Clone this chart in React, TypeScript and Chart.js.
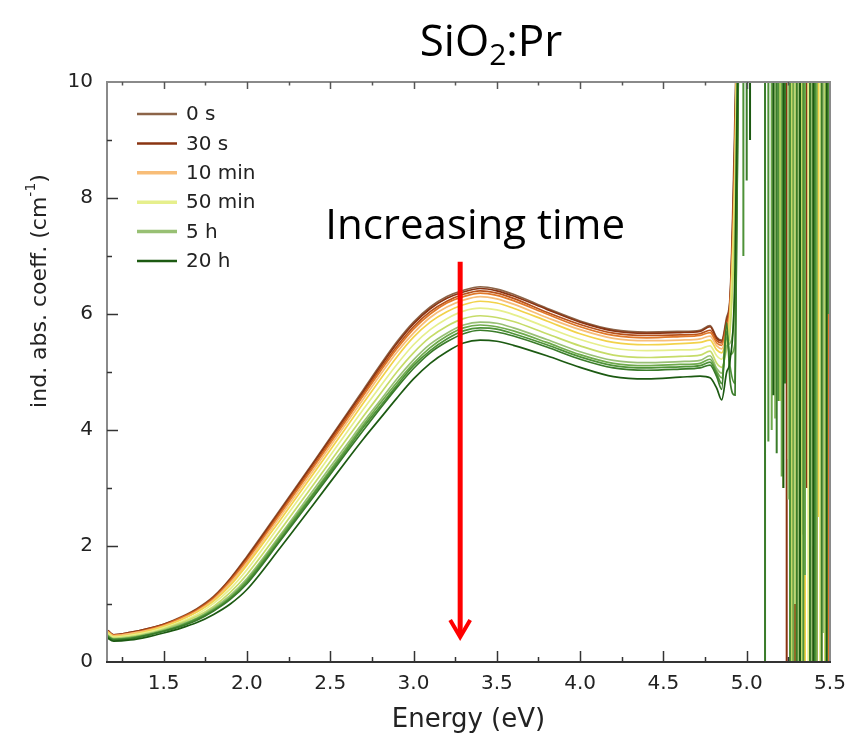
import React, { useEffect, useRef } from "react";
import { Chart, registerables } from "chart.js";
Chart.register(...registerables);

// ---------- data ----------
const energy = [1.15, 1.17, 1.2, 1.3, 1.4, 1.5, 1.6, 1.7, 1.8, 1.9, 2.0, 2.2, 2.4, 2.6, 2.7, 2.8, 2.9, 3.0, 3.1, 3.2, 3.3, 3.4, 3.5, 3.6, 3.8, 4.0, 4.2, 4.4, 4.6, 4.72, 4.78, 4.82, 4.85, 4.88, 4.9, 4.93, 4.96];

const abs00 = [0.58, 0.53, 0.47, 0.51, 0.57, 0.65, 0.77, 0.92, 1.13, 1.44, 1.82, 2.63, 3.45, 4.28, 4.7, 5.12, 5.52, 5.86, 6.12, 6.3, 6.41, 6.47, 6.43, 6.34, 6.1, 5.88, 5.73, 5.69, 5.7, 5.72, 5.8, 5.6, 5.55, 5.95, 6.3, 9.5, 14];
const abs01 = [0.58, 0.53, 0.47, 0.51, 0.57, 0.65, 0.76, 0.91, 1.12, 1.43, 1.8, 2.61, 3.43, 4.26, 4.67, 5.09, 5.49, 5.83, 6.09, 6.27, 6.38, 6.44, 6.4, 6.31, 6.08, 5.86, 5.71, 5.67, 5.68, 5.7, 5.78, 5.58, 5.53, 5.9, 6.25, 9.2, 14];
const abs02 = [0.57, 0.52, 0.46, 0.5, 0.56, 0.64, 0.76, 0.9, 1.11, 1.41, 1.77, 2.58, 3.39, 4.22, 4.63, 5.05, 5.44, 5.78, 6.04, 6.22, 6.34, 6.4, 6.36, 6.27, 6.03, 5.82, 5.67, 5.63, 5.64, 5.66, 5.72, 5.54, 5.5, 5.85, 6.2, 9.0, 14];
const abs03 = [0.56, 0.51, 0.46, 0.49, 0.55, 0.63, 0.75, 0.89, 1.09, 1.39, 1.75, 2.55, 3.36, 4.18, 4.6, 5.01, 5.4, 5.74, 6.0, 6.19, 6.3, 6.36, 6.32, 6.23, 6.0, 5.78, 5.63, 5.59, 5.61, 5.63, 5.68, 5.5, 5.46, 5.78, 6.12, 8.8, 14];
const abs04 = [0.56, 0.51, 0.45, 0.49, 0.54, 0.62, 0.73, 0.87, 1.07, 1.36, 1.71, 2.51, 3.31, 4.13, 4.54, 4.95, 5.34, 5.67, 5.94, 6.12, 6.24, 6.3, 6.26, 6.17, 5.94, 5.73, 5.58, 5.54, 5.55, 5.57, 5.62, 5.45, 5.4, 5.7, 6.05, 8.6, 14];
const abs05 = [0.55, 0.5, 0.44, 0.47, 0.53, 0.61, 0.72, 0.86, 1.05, 1.32, 1.67, 2.45, 3.25, 4.06, 4.47, 4.87, 5.26, 5.6, 5.86, 6.04, 6.16, 6.22, 6.19, 6.1, 5.88, 5.66, 5.51, 5.47, 5.49, 5.51, 5.55, 5.38, 5.33, 5.62, 5.98, 8.4, 14];
const abs06 = [0.53, 0.48, 0.43, 0.46, 0.51, 0.59, 0.69, 0.82, 1.01, 1.26, 1.59, 2.37, 3.16, 3.96, 4.36, 4.75, 5.13, 5.47, 5.73, 5.92, 6.05, 6.1, 6.07, 5.99, 5.77, 5.56, 5.41, 5.37, 5.38, 5.4, 5.45, 5.28, 5.22, 5.5, 5.85, 8.2, 14];
const abs07 = [0.51, 0.46, 0.41, 0.44, 0.49, 0.57, 0.67, 0.79, 0.96, 1.2, 1.51, 2.27, 3.06, 3.85, 4.24, 4.62, 5.0, 5.33, 5.6, 5.79, 5.92, 5.97, 5.94, 5.87, 5.66, 5.45, 5.29, 5.25, 5.27, 5.29, 5.36, 5.15, 5.08, 5.4, 5.7, 7.8, 14];
const abs08 = [0.49, 0.44, 0.4, 0.42, 0.48, 0.55, 0.65, 0.76, 0.93, 1.15, 1.44, 2.19, 2.97, 3.75, 4.14, 4.51, 4.88, 5.21, 5.48, 5.67, 5.81, 5.86, 5.84, 5.76, 5.56, 5.35, 5.2, 5.16, 5.18, 5.2, 5.28, 5.06, 4.98, 5.45, 5.5, 6.5, 14];
const abs09 = [0.49, 0.44, 0.39, 0.42, 0.47, 0.54, 0.63, 0.75, 0.91, 1.12, 1.41, 2.16, 2.92, 3.7, 4.09, 4.46, 4.82, 5.15, 5.42, 5.62, 5.76, 5.81, 5.78, 5.71, 5.51, 5.3, 5.15, 5.11, 5.13, 5.15, 5.22, 5.01, 4.9, 5.6, 5.3, 5.5, 14];
const abs10 = [0.48, 0.43, 0.39, 0.41, 0.46, 0.53, 0.62, 0.74, 0.89, 1.1, 1.38, 2.12, 2.89, 3.66, 4.05, 4.41, 4.77, 5.11, 5.37, 5.57, 5.71, 5.76, 5.74, 5.66, 5.47, 5.26, 5.11, 5.07, 5.09, 5.11, 5.17, 4.97, 4.8, 5.7, 5.1, 4.8, 14];
const abs11 = [0.47, 0.42, 0.38, 0.4, 0.46, 0.53, 0.61, 0.72, 0.88, 1.08, 1.35, 2.09, 2.85, 3.62, 4.0, 4.37, 4.73, 5.06, 5.33, 5.52, 5.66, 5.72, 5.69, 5.62, 5.43, 5.22, 5.07, 5.03, 5.05, 5.07, 5.12, 4.92, 4.7, 5.85, 4.85, 4.6, 14];
const abs12 = [0.45, 0.4, 0.36, 0.38, 0.43, 0.5, 0.58, 0.68, 0.82, 1.0, 1.25, 1.97, 2.72, 3.48, 3.85, 4.2, 4.55, 4.88, 5.15, 5.35, 5.5, 5.55, 5.53, 5.46, 5.28, 5.08, 4.92, 4.88, 4.91, 4.93, 4.9, 4.72, 4.52, 5.0, 5.2, 6.8, 14];

const seriesValues = [abs00, abs01, abs02, abs03, abs04, abs05, abs06, abs07, abs08, abs09, abs10, abs11, abs12];
const seriesLabels = ["0 s", "30 s", "", "", "10 min", "", "50 min", "", "5 h", "", "", "", "20 h"];
const seriesColors = ["#8c6448", "#8a3412", "#b8521c", "#e0782a", "#f8bd78", "#f2d24a", "#e6ef8c", "#c6dc68", "#98c074", "#6eaa4c", "#4e9238", "#3a7c2a", "#1c5a12"];

// noisy region above the band gap: energies where a trace drops and the depth it reaches
const spikeEnergy = [
  [5.27, 5.33, 5.41, 5.47],
  [5.24, 5.29, 5.36, 5.44],
  [5.26, 5.31, 5.39, 5.46],
  [5.28, 5.34, 5.42, 5.49],
  [5.25, 5.32, 5.38, 5.45],
  [5.3, 5.35, 5.43],
  [5.22, 5.29, 5.37, 5.44],
  [5.2, 5.27, 5.33, 5.4, 5.47],
  [5.17, 5.25, 5.31, 5.39, 5.46],
  [5.15, 5.21, 5.28, 5.35, 5.42, 5.48],
  [4.98, 5.13, 5.19, 5.26, 5.34, 5.41, 5.49],
  [5.0, 5.11, 5.18, 5.23, 5.3, 5.38, 5.45],
  [5.02, 5.16, 5.22, 5.32, 5.4, 5.48, 5.5],
];
const spikeDepth = [
  [-3, 2.2, -3, 1.0],
  [-3, -3, 3.0, -3],
  [2.0, -3, -3, 4.0],
  [-3, 3.5, -3, -3],
  [3.5, -3, 1.5, -3],
  [-3, -3, 2.5],
  [3.0, 1.0, -3, -3],
  [4.5, -3, -3, 2.0, -3],
  [4.2, 2.8, -3, -3, 0.5],
  [4.0, 3.2, -3, 1.5, -3, -3],
  [7.0, 3.8, 4.5, -3, -3, -3, 6.0],
  [8.3, -3, 3.6, 4.8, -3, -3, -3],
  [9.0, 4.6, 3.0, -3, -3, -3, 1.2],
];
const spikeTop = 15;

const xTicksMajor = 0.5;
const arrowEnergy = 3.28;
const arrowFrom = 6.9;
const arrowTo = 0.43;
const annotationText = "Increasing time";
const annotationEnergy = 3.37;
const annotationValue = 7.5;

// ---------- helpers ----------
function isMajorX(v: number) {
  const r = v / xTicksMajor;
  return Math.abs(r - Math.round(r)) < 1e-6;
}

const decorPlugin = {
  id: "decor",
  afterDatasetsDraw(chart: any) {
    const { ctx, chartArea: a } = chart;
    const xs = chart.scales.x;
    const ys = chart.scales.y;
    ctx.save();

    // frame
    ctx.lineWidth = 2;
    ctx.strokeStyle = "#8a8a8a";
    ctx.beginPath();
    ctx.moveTo(a.left, a.bottom);
    ctx.lineTo(a.left, a.top);
    ctx.lineTo(a.right, a.top);
    ctx.lineTo(a.right, a.bottom);
    ctx.stroke();
    ctx.strokeStyle = "#333";
    ctx.beginPath();
    ctx.moveTo(a.left - 1, a.bottom);
    ctx.lineTo(a.right + 1, a.bottom);
    ctx.stroke();

    // x ticks (inward, bottom and top)
    ctx.lineWidth = 1.5;
    for (const t of xs.ticks) {
      const v = t.value;
      if (v <= xs.min + 1e-9 || v >= xs.max - 1e-9) continue;
      const px = Math.round(xs.getPixelForValue(v)) + 0.5;
      const major = isMajorX(v);
      ctx.strokeStyle = "#333";
      ctx.beginPath();
      ctx.moveTo(px, a.bottom);
      ctx.lineTo(px, a.bottom - (major ? 11 : 5));
      ctx.stroke();
      ctx.strokeStyle = "#555";
      ctx.beginPath();
      ctx.moveTo(px, a.top);
      ctx.lineTo(px, a.top + (major ? 7 : 3.5));
      ctx.stroke();
    }
    // y ticks (inward, left)
    for (const t of ys.ticks) {
      const v = t.value;
      if (v <= ys.min + 1e-9 || v >= ys.max - 1e-9) continue;
      const py = Math.round(ys.getPixelForValue(v)) + 0.5;
      const major = Math.round(v) % 2 === 0;
      ctx.strokeStyle = "#333";
      ctx.beginPath();
      ctx.moveTo(a.left, py);
      ctx.lineTo(a.left + (major ? 11 : 5), py);
      ctx.stroke();
    }

    // arrow
    const ax = xs.getPixelForValue(arrowEnergy);
    const ay0 = ys.getPixelForValue(arrowFrom);
    const ay1 = ys.getPixelForValue(arrowTo);
    ctx.strokeStyle = "#ff0000";
    ctx.lineWidth = 5;
    ctx.lineCap = "butt";
    ctx.beginPath();
    ctx.moveTo(ax, ay0);
    ctx.lineTo(ax, ay1 - 2);
    ctx.stroke();
    ctx.lineWidth = 4;
    ctx.lineJoin = "miter";
    ctx.beginPath();
    ctx.moveTo(ax - 10, ay1 - 17);
    ctx.lineTo(ax, ay1);
    ctx.lineTo(ax + 10, ay1 - 17);
    ctx.stroke();

    // annotation text
    ctx.fillStyle = "#000";
    ctx.font = "42px 'Open Sans'";
    ctx.textAlign = "center";
    ctx.textBaseline = "middle";
    ctx.fillText(annotationText, xs.getPixelForValue(annotationEnergy), ys.getPixelForValue(annotationValue));

    // legend
    ctx.font = "20px 'DejaVu Sans'";
    ctx.textAlign = "left";
    ctx.textBaseline = "middle";
    let row = 0;
    chart.data.datasets.forEach((ds: any) => {
      if (!ds.legendLabel) return;
      const yy = a.top + 32 + row * 29.4;
      ctx.strokeStyle = ds.borderColor;
      ctx.lineWidth = ds.legendWidth;
      ctx.beginPath();
      ctx.moveTo(a.left + 30, yy);
      ctx.lineTo(a.left + 70, yy);
      ctx.stroke();
      ctx.fillStyle = "#222";
      ctx.fillText(ds.legendLabel, a.left + 79, yy + 1);
      row++;
    });

    // x axis title
    ctx.font = "26px 'DejaVu Sans'";
    ctx.textAlign = "center";
    ctx.textBaseline = "alphabetic";
    ctx.fillStyle = "#222";
    ctx.fillText("Energy (eV)", (a.left + a.right) / 2, 727);

    // y axis title with superscript
    ctx.save();
    ctx.translate(40, 291);
    ctx.rotate(-Math.PI / 2);
    const main = "ind. abs. coeff. (cm";
    const sup = "-1";
    const close = ")";
    ctx.font = "22px 'DejaVu Sans'";
    const wMain = ctx.measureText(main).width;
    const wClose = ctx.measureText(close).width;
    ctx.font = "14px 'DejaVu Sans'";
    const wSup = ctx.measureText(sup).width;
    const total = wMain + wSup + wClose;
    let cx = -total / 2;
    ctx.textAlign = "left";
    ctx.textBaseline = "middle";
    ctx.font = "22px 'DejaVu Sans'";
    ctx.fillText(main, cx, 0);
    cx += wMain;
    ctx.font = "14px 'DejaVu Sans'";
    ctx.fillText(sup, cx, -9);
    cx += wSup;
    ctx.font = "22px 'DejaVu Sans'";
    ctx.fillText(close, cx, 0);
    ctx.restore();

    // chart title SiO2:Pr
    ctx.fillStyle = "#000";
    ctx.textBaseline = "alphabetic";
    ctx.textAlign = "left";
    const big = "44px 'Open Sans'";
    const small = "30px 'Open Sans'";
    ctx.font = big;
    const w1 = ctx.measureText("SiO").width;
    const w3 = ctx.measureText(":Pr").width;
    ctx.font = small;
    const w2 = ctx.measureText("2").width;
    let tx = 491 - (w1 + w2 + w3) / 2;
    const base = 56;
    ctx.font = big;
    ctx.fillText("SiO", tx, base);
    tx += w1;
    ctx.font = small;
    ctx.fillText("2", tx, base + 9);
    tx += w2;
    ctx.font = big;
    ctx.fillText(":Pr", tx, base);

    ctx.restore();
  },
};

export default function App() {
  const ref = useRef<HTMLCanvasElement | null>(null);
  useEffect(() => {
    document.body.style.margin = "0";
    if (!ref.current) return;
    const smoothSets = seriesValues.map((vals, i) => ({
      label: seriesLabels[i] || `trace ${i + 1}`,
      legendLabel: seriesLabels[i],
      legendWidth: [4, 6, 8].includes(i) ? 3.5 : 2.5,
      data: energy.map((e, j) => ({ x: e, y: vals[j] })),
      borderColor: seriesColors[i],
      borderWidth: 1.7,
      pointRadius: 0,
      cubicInterpolationMode: "monotone",
      fill: false,
      order: 13 - i,
    }));
    const noiseSets = spikeEnergy.map((list, i) => {
      const pts: { x: number; y: number }[] = [{ x: energy[energy.length - 1], y: spikeTop }];
      list.forEach((e, k) => {
        pts.push({ x: e, y: spikeTop });
        pts.push({ x: e, y: spikeDepth[i][k] });
        pts.push({ x: e, y: spikeTop });
      });
      return {
        label: `noise ${i + 1}`,
        data: pts,
        borderColor: seriesColors[i],
        borderWidth: 2,
        pointRadius: 0,
        tension: 0,
        fill: false,
        order: 13 - i,
      };
    });
    const chart = new Chart(ref.current, {
      type: "line",
      data: { datasets: [...smoothSets, ...noiseSets] as any },
      options: {
        animation: false,
        responsive: true,
        maintainAspectRatio: false,
        devicePixelRatio: 1,
        layout: { padding: { left: 0, top: 82, right: 20, bottom: 0 } },
        plugins: { legend: { display: false }, tooltip: { enabled: false }, title: { display: false } },
        scales: {
          x: {
            type: "linear",
            min: 1.16,
            max: 5.5,
            afterFit: (s: any) => {
              s.height = 75;
              s.paddingLeft = 0;
              s.paddingRight = 0;
            },
            grid: { display: false, drawTicks: false },
            border: { display: false },
            ticks: {
              stepSize: 0.25,
              includeBounds: false,
              autoSkip: false,
              maxRotation: 0,
              padding: 10,
              color: "#222",
              font: { family: "DejaVu Sans", size: 20 },
              callback: (v: any) => (isMajorX(Number(v)) ? Number(v).toFixed(1) : ""),
            },
          },
          y: {
            type: "linear",
            min: 0,
            max: 10,
            afterFit: (s: any) => {
              s.width = 107;
            },
            grid: { display: false, drawTicks: false },
            border: { display: false },
            ticks: {
              stepSize: 1,
              autoSkip: false,
              padding: 14,
              color: "#222",
              font: { family: "DejaVu Sans", size: 20 },
              callback: (v: any) => (Math.round(Number(v)) % 2 === 0 ? String(v) : ""),
            },
          },
        },
      },
      plugins: [decorPlugin],
    });
    return () => chart.destroy();
  }, []);
  return (
    <div style={{ position: "relative", width: 850, height: 737 }}>
      <canvas ref={ref} />
    </div>
  );
}
